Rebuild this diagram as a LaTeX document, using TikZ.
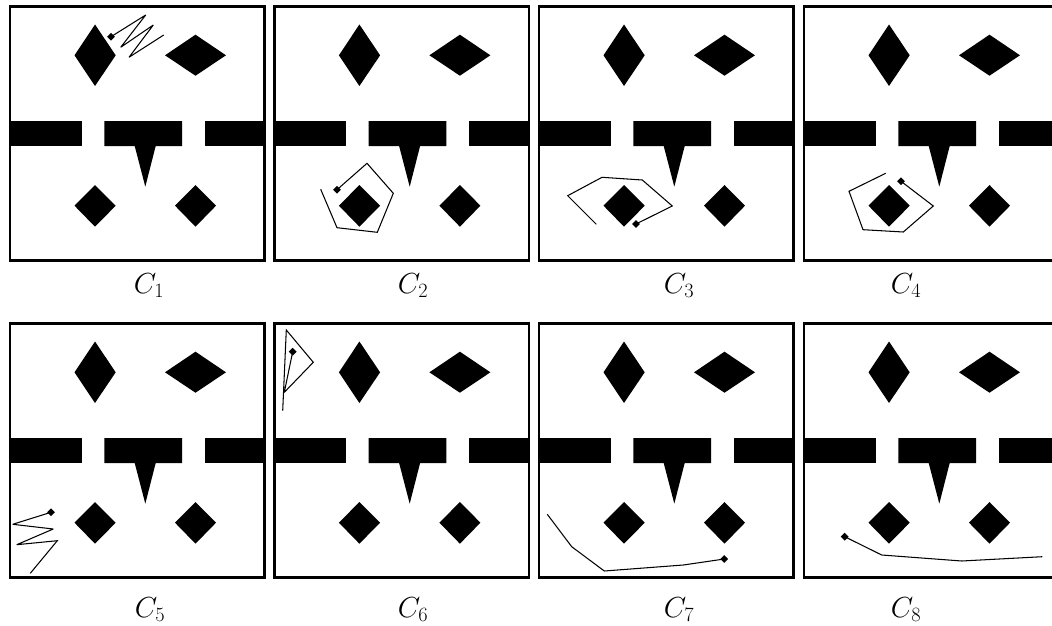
\documentclass[tikz,border=0pt]{standalone}
\usepackage{fix-cm}
\usetikzlibrary{shapes.geometric}
\tikzset{
  x=1pt,y=-1pt,
  frame/.style={draw=black,line width=2.3pt,fill=none},
  solid shape/.style={fill=black,draw=none},
  robot path/.style={draw=black,line width=1.05pt,line join=miter,miter limit=3},
  robot dot/.style={shape=diamond,fill=black,draw=none,inner sep=0pt,minimum size=8pt},
  caption/.style={anchor=base,inner sep=0pt,font=\fontsize{29}{29}\selectfont},
  scene/.pic={
    \fill[solid shape] (10,121) rectangle (81.7,146);
    \fill[solid shape] (104.3,121) -- (182,121) -- (182,146) -- (155.7,146) -- (145.3,186.7) -- (134.7,146) -- (104.3,146) -- cycle;
    \fill[solid shape] (204.7,121) rectangle (264.6,146);
    \fill[solid shape] (74.5,55.3) -- (95,24.5) -- (115.7,55.3) -- (95,86) -- cycle;
    \fill[solid shape] (165,55.3) -- (195.5,34.7) -- (226,55.3) -- (195.5,75.7) -- cycle;
    \fill[solid shape] (74.5,205.7) -- (95,185) -- (115.7,205.7) -- (95,226.7) -- cycle;
    \fill[solid shape] (175,205.7) -- (195.5,185) -- (216,205.7) -- (195.5,226.7) -- cycle;
    \draw[frame] (10,6.5) rectangle (264.6,260.5);
  }
}
\begin{document}
\begin{tikzpicture}
\useasboundingbox (0,0) rectangle (1052,626);
\clip (0,0) rectangle (1052,626);
\fill[white] (0,0) rectangle (1052,626);
\pic at (0,0) {scene};
\pic at (264.4,0) {scene};
\pic at (529,0) {scene};
\pic at (794,0) {scene};
\pic at (0,317) {scene};
\pic at (264.4,317) {scene};
\pic at (529,317) {scene};
\pic at (794,317) {scene};
% C1
\node[robot dot] (d1) at (111,36.7) {};
\coordinate (e1) at (163.7,35);
\draw[robot path] (d1.center) -- (145.7,15) -- (120.7,47.3) -- (153.3,25) -- (129,57.3) -- (e1);
% C2
\node[robot dot] (d2) at (337,189.7) {};
\coordinate (e2) at (320.7,189.3);
\draw[robot path] (d2.center) -- (367,163.3) -- (393.3,193.3) -- (377.3,232.3) -- (337,227.7) -- (e2);
% C3
\node[robot dot] (d3) at (636,224) {};
\coordinate (e3) at (596.3,224.3);
\draw[robot path] (d3.center) -- (672.3,206) -- (642.3,180) -- (602,177.3) -- (567.7,195.7) -- (e3);
% C4
\node[robot dot] (d4) at (901,181.3) {};
\coordinate (e4) at (885.7,173.3);
\draw[robot path] (d4.center) -- (933.3,206) -- (903.3,232) -- (863,229.7) -- (849,191.3) -- (e4);
% C5
\node[robot dot] (d5) at (51,512.3) {};
\coordinate (e5) at (30.3,573.3);
\draw[robot path] (d5.center) -- (12.7,524.3) -- (53.3,529) -- (16.7,544.7) -- (57.3,540.7) -- (e5);
% C6
\node[robot dot] (d6) at (292.7,351.7) {};
\coordinate (e6) at (282.7,410.7);
\draw[robot path] (d6.center) -- (284.3,392.3) -- (313.3,362.3) -- (286.3,330) -- (e6);
% C7
\node[robot dot] (d7) at (724.3,559) {};
\coordinate (e7) at (547.3,514.3);
\draw[robot path] (d7.center) -- (683.3,565) -- (604.3,571) -- (571.7,546.7) -- (e7);
% C8
\node[robot dot] (d8) at (844.7,536.7) {};
\coordinate (e8) at (1042.3,556.7);
\draw[robot path] (d8.center) -- (881.7,555) -- (961.7,561) -- (e8);
% captions
\node[caption] (c1) at (149,293) {$C_1$};
\node[caption] (c2) at (413,293) {$C_2$};
\node[caption] (c3) at (679,293) {$C_3$};
\node[caption] (c4) at (906,293) {$C_4$};
\node[caption] (c5) at (150,617.5) {$C_5$};
\node[caption] (c6) at (413,617.5) {$C_6$};
\node[caption] (c7) at (679,617.5) {$C_7$};
\node[caption] (c8) at (906,617.5) {$C_8$};
\end{tikzpicture}
\end{document}
